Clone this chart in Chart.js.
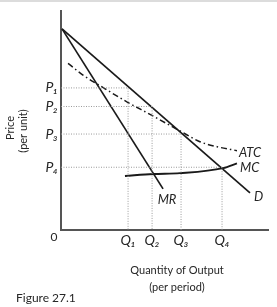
<!DOCTYPE html>
<html lang="en">
<head>
<meta charset="UTF-8">
<title>Figure 27.1</title>
<script src="https://cdn.jsdelivr.net/npm/chart.js@4.4.1/dist/chart.umd.min.js"></script>
<style>
  html, body { margin: 0; padding: 0; background: #fff; }
  #wrap { width: 277px; height: 307px; }
</style>
</head>
<body>
<div id="wrap"><canvas id="chart" width="277" height="307"></canvas></div>
<script>
// axis levels (both axes run 0..100)
const priceLabels = ['P₁', 'P₂', 'P₃', 'P₄'];
const priceLevels = [65.0, 56.5, 43.9, 28.7];
const qtyLabels = ['Q₁', 'Q₂', 'Q₃', 'Q₄'];
const qtyLevels = [32.4, 44.0, 58.0, 77.8];

// curves as [quantity, price]
const demand = [[0.5, 92], [91.3, 17.0]];
const marginalRevenue = [[0.5, 92], [49.3, 18.8]];
const avgTotalCost = [[3.4, 76.2], [10.6, 70.9], [21.3, 64.6], [32.4, 58.3], [43.0, 52.9],
                      [57.5, 45.3], [67.1, 40.4], [75.4, 38.1], [85.0, 36.3]];
const marginalCost = [[30.9, 24.7], [44.4, 25.6], [57.5, 26.0], [78.3, 28.3], [85.0, 30.5]];

const pts = arr => arr.map(p => ({ x: p[0], y: p[1] }));
const last = arr => arr[arr.length - 1];

const ink = '#1a1a1a';
const textCol = '#262626';

// dotted guides from each price level across to its quantity and down
const guides = priceLevels.map((p, i) => ({
    data: [{ x: 0, y: p }, { x: qtyLevels[i], y: p }, { x: qtyLevels[i], y: 0 }],
    borderColor: '#9a9a9a',
    borderWidth: 1,
    borderDash: [1, 1.5],
    pointRadius: 0,
    showLine: true,
    tension: 0
}));

const curve = (arr, extra) => Object.assign({
    data: pts(arr),
    borderColor: ink,
    borderWidth: 1.7,
    pointRadius: 0,
    showLine: true,
    tension: 0
}, extra);

// labels, axis titles and caption
const notes = {
    id: 'notes',
    afterDraw(chart) {
        const { ctx, scales: { x, y } } = chart;
        const px = p => x.getPixelForValue(p[0]);
        const py = p => y.getPixelForValue(p[1]);
        ctx.save();
        ctx.fillStyle = textCol;
        ctx.textBaseline = 'middle';
        const put = (txt, tx, ty, font, align) => {
            ctx.font = font;
            ctx.textAlign = align || 'left';
            ctx.fillText(txt, tx, ty);
        };
        const it = 'italic 13px Lato, sans-serif';
        put('ATC', px(last(avgTotalCost)) + 2, py(last(avgTotalCost)) + 2, it);
        put('MC', px(last(marginalCost)) + 3, py(last(marginalCost)) + 4, it);
        put('D', px(last(demand)) + 4, py(last(demand)) + 4, it);
        put('MR', px(last(marginalRevenue)) + 4, py(last(marginalRevenue)) + 11, it, 'center');

        const up = '11px Lato, sans-serif';
        put('0', 54, 237, '12px Lato, sans-serif', 'center');
        put('Quantity of Output', 177, 270, up, 'center');
        put('(per period)', 177, 287, up, 'center');
        put('Figure 27.1', 16, 298, '12px Lato, sans-serif');

        ctx.translate(10, 128);
        ctx.rotate(-Math.PI / 2);
        put('Price', 0, 0, up, 'center');
        put('(per unit)', -3, 13, up, 'center');
        ctx.restore();

        // faint frame edge along the top
        ctx.save();
        ctx.strokeStyle = '#dcdcdc';
        ctx.lineWidth = 2;
        ctx.beginPath();
        ctx.moveTo(0, 1);
        ctx.lineTo(chart.width, 1);
        ctx.stroke();
        ctx.restore();
    }
};

new Chart(document.getElementById('chart'), {
    type: 'scatter',
    data: {
        datasets: [
            ...guides,
            curve(demand),
            curve(marginalRevenue),
            curve(avgTotalCost, { borderWidth: 1.5, borderDash: [6, 3, 1.5, 3], cubicInterpolationMode: 'monotone' }),
            curve(marginalCost, { borderWidth: 1.9, cubicInterpolationMode: 'monotone' })
        ]
    },
    options: {
        responsive: false,
        animation: false,
        layout: { padding: { top: 7, right: 9, left: 0, bottom: 0 } },
        plugins: { legend: { display: false }, tooltip: { enabled: false } },
        scales: {
            x: {
                type: 'linear', min: 0, max: 100,
                grid: { display: false, drawTicks: false },
                border: { display: true, color: '#555', width: 2 },
                afterBuildTicks: s => { s.ticks = qtyLevels.map(v => ({ value: v })); },
                afterFit: s => { s.height = 77; },
                ticks: {
                    autoSkip: false, maxRotation: 0, padding: 2, color: textCol,
                    font: { family: 'Lato', size: 14, style: 'italic' },
                    callback: (v, i) => qtyLabels[i]
                }
            },
            y: {
                type: 'linear', min: 0, max: 100,
                grid: { display: false, drawTicks: false },
                border: { display: true, color: '#555', width: 2 },
                afterBuildTicks: s => { s.ticks = priceLevels.map(v => ({ value: v })); },
                afterFit: s => { s.width = 61; },
                ticks: {
                    autoSkip: false, padding: 3, color: textCol,
                    font: { family: 'Lato', size: 14, style: 'italic' },
                    callback: (v, i) => priceLabels[i]
                }
            }
        }
    },
    plugins: [notes]
});
</script>
</body>
</html>
